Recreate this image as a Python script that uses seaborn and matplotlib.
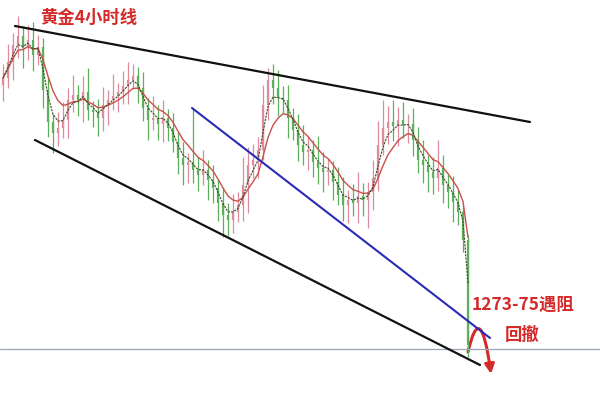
import numpy as np
import pandas as pd
import matplotlib
matplotlib.use("Agg")
import matplotlib.pyplot as plt
from matplotlib.path import Path
from matplotlib.patches import FancyArrowPatch
import seaborn as sns

# Gold 4h closes (price in chart units)
closes = [342, 358, 375, 384, 372, 380, 365, 373, 330, 298, 287, 292, 300, 320, 325, 320, 328, 310, 308, 302,
          315, 320, 324, 328, 334, 340, 344, 332, 312, 300, 302, 296, 302, 292, 278, 262, 255, 258, 250, 245,
          250, 240, 232, 217, 205, 200, 208, 215, 235, 255, 260, 270, 315, 340, 332, 322, 320, 302, 290, 275,
          268, 270, 258, 252, 248, 250, 238, 225, 215, 220, 217, 224, 220, 228, 242, 275, 292, 298, 294, 300,
          295, 296, 280, 260, 255, 248, 242, 252, 235, 228, 218, 208, 180, 75]
first_open = 335
wick_up = [14, 18, 12, 20, 10, 15, 18, 12, 9, 14, 8, 16, 18, 12, 20, 10, 16, 24, 9, 13,
           18, 10, 22, 9, 15, 18, 12, 9, 16, 10, 22, 13, 18, 9, 15, 10, 16, 9, 54, 13,
           20, 10, 15, 9, 16, 12, 18, 13, 28, 18, 16, 13, 20, 12, 16, 18, 12, 15, 10, 16,
           20, 13, 10, 26, 16, 12, 9, 15, 18, 10, 16, 24, 13, 10, 18, 24, 28, 16, 22, 13,
           18, 10, 16, 13, 20, 10, 15, 28, 13, 10, 16, 12, 8, 5]
wick_dn = [16, 10, 18, 13, 20, 12, 16, 10, 18, 15, 20, 13, 10, 18, 12, 16, 22, 10, 15, 18,
           13, 20, 10, 16, 12, 18, 9, 15, 13, 20, 10, 16, 18, 13, 10, 16, 20, 18, 13, 16,
           10, 20, 15, 18, 22, 16, 13, 10, 16, 28, 13, 18, 10, 15, 16, 18, 13, 20, 10, 16,
           13, 18, 15, 16, 20, 13, 18, 10, 16, 18, 13, 20, 16, 28, 18, 13, 10, 16, 15, 20,
           13, 18, 16, 13, 18, 20, 16, 13, 18, 16, 20, 13, 12, 12]

# trendlines: (bar index, price) end points
upper_line = ([2.4, 105.4], [394, 298])
lower_line = ([6.4, 95.4], [280, 55])
blue_line = ([37.8, 97.4], [312, 82])
support_level = 71

title_text = "黄金4小时线"
resist_text = "1273-75遇阻"
pullback_text = "回撤"

sns.set_theme(style="white")
plt.rcParams["font.family"] = ["Noto Sans CJK SC", "DejaVu Sans"]

df = pd.DataFrame({"bar": np.arange(len(closes)), "close": closes})
df["open"] = [first_open] + closes[:-1]
df["high"] = df[["open", "close"]].max(axis=1) + wick_up
df["low"] = df[["open", "close"]].min(axis=1) - wick_dn
df["ma_fast"] = df["close"].ewm(span=3).mean()
df["ma_slow"] = df["close"].ewm(span=7).mean()

fig = plt.figure(figsize=(6, 4.2), dpi=100)
ax = fig.add_axes([0, 0, 1, 1])
ax.set_xlim(-0.6, 119.4)
ax.set_ylim(0, 420)
ax.axis("off")

up = df[df["close"] >= df["open"]]
dn = df[df["close"] < df["open"]]
for part, col in [(up, "#dc8c9e"), (dn, "#5cb05c")]:
    ax.vlines(part["bar"], part["low"], part["high"], color=col, lw=0.9)
    ax.vlines(part["bar"], part[["open", "close"]].min(axis=1),
              part[["open", "close"]].max(axis=1), color=col, lw=1.6)

sns.lineplot(data=df, x="bar", y="ma_slow", ax=ax, color="#c9504a", lw=1.0)
sns.lineplot(data=df, x="bar", y="ma_fast", ax=ax, color="#3c4a20", lw=0.8, ls=(0, (2, 1)))

ax.axhline(support_level, color="#9aa6b4", lw=0.9)
ax.plot(*upper_line, color="#111111", lw=1.6)
ax.plot(*lower_line, color="#111111", lw=1.6)
ax.plot(*blue_line, color="#2a2ab8", lw=1.5)

arrow_path = Path([(93.0, 68), (95.5, 123), (97.6, 46)], [Path.MOVETO, Path.CURVE3, Path.CURVE3])
ax.add_patch(FancyArrowPatch(path=arrow_path, arrowstyle="-|>", mutation_scale=14,
                             color="#d42a2a", lw=2.2))

ax.text(7.4, 402, title_text, color="#d42a2a", fontsize=12.5, fontweight="bold", va="center")
ax.text(93.8, 115, resist_text, color="#d42a2a", fontsize=12.5, fontweight="bold", va="center")
ax.text(100.4, 85, pullback_text, color="#d42a2a", fontsize=12.5, fontweight="bold", va="center")

fig.savefig("out.png", dpi=100, facecolor="white")
